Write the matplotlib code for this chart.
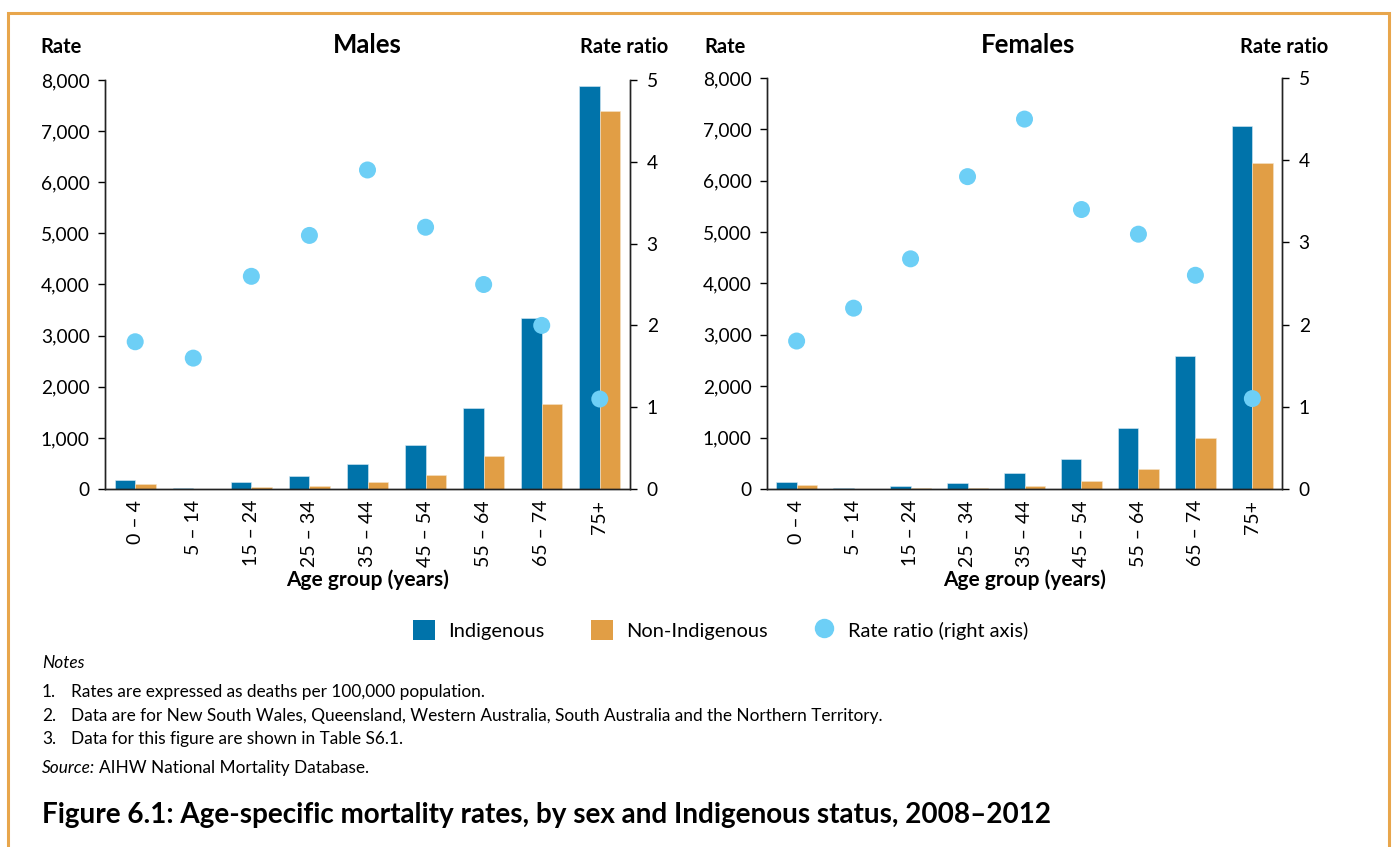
import matplotlib
matplotlib.use("Agg")
import matplotlib.pyplot as plt
import numpy as np
from matplotlib.lines import Line2D
from matplotlib.patches import Patch, Rectangle
from matplotlib.ticker import FuncFormatter, MultipleLocator

# ── Data (deaths per 100,000; rate ratio) ───────────────────────────────────
AGE_GROUPS = ["0 – 4", "5 – 14", "15 – 24", "25 – 34", "35 – 44",
              "45 – 54", "55 – 64", "65 – 74", "75+"]

MALE_INDIG = [175, 20, 130, 245, 490, 870, 1590, 3340, 7880]
MALE_NON = [90, 8, 48, 68, 128, 265, 640, 1655, 7400]
MALE_RATIO = [1.8, 1.6, 2.6, 3.1, 3.9, 3.2, 2.5, 2.0, 1.1]

FEMALE_INDIG = [145, 20, 60, 120, 310, 578, 1185, 2590, 7060]
FEMALE_NON = [78, 4, 18, 28, 66, 165, 380, 1000, 6340]
FEMALE_RATIO = [1.8, 2.2, 2.8, 3.8, 4.5, 3.4, 3.1, 2.6, 1.1]

BLUE = "#0073AA"
ORANGE = "#E19E45"
LIGHT_BLUE = "#6DCFF6"
BORDER = "#E8A64C"

W, H = 1394, 847

plt.rcParams.update({
    "font.family": ["Lato", "DejaVu Sans"],
    "font.size": 13,
    "axes.linewidth": 1.0,
    "axes.edgecolor": "#222222",
    "xtick.labelsize": 14,
    "ytick.labelsize": 13.8,
})


def fx(px):
    return px / W


def fy(py):
    return 1 - py / H


def draw_panel(fig, rect, indig, non, ratio):
    ax = fig.add_axes(rect)
    x = np.arange(len(AGE_GROUPS))
    bw = 0.355
    ax.bar(x - bw / 2, indig, bw, color=BLUE, edgecolor="#d9ecf5",
           linewidth=0.4, zorder=2)
    ax.bar(x + bw / 2, non, bw, color=ORANGE, edgecolor="#f6e3c8",
           linewidth=0.4, zorder=2)
    ax.set_ylim(0, 8000)
    ax.set_xlim(-0.52, len(AGE_GROUPS) - 0.48)
    ax.yaxis.set_major_locator(MultipleLocator(1000))
    ax.yaxis.set_major_formatter(FuncFormatter(lambda v, p: f"{v:,.0f}"))
    ax.set_xticks(x)
    ax.set_xticklabels(AGE_GROUPS, rotation=90)
    ax.tick_params(axis="x", length=0, pad=8)
    ax.tick_params(axis="y", direction="out", length=5, width=1.0, pad=6)
    ax.spines["top"].set_visible(False)
    ax.set_xlabel("Age group (years)", fontweight="bold", fontsize=15,
                  labelpad=2)

    ax2 = ax.twinx()
    ax2.scatter(x, ratio, s=150, color=LIGHT_BLUE, zorder=3,
                edgecolors="none")
    ax2.set_ylim(0, 5)
    ax2.yaxis.set_major_locator(MultipleLocator(1))
    ax2.tick_params(axis="y", direction="out", length=5, width=1.0, pad=7)
    ax2.spines["top"].set_visible(False)
    return ax, ax2


fig = plt.figure(figsize=(W / 100, H / 100), dpi=100)

# orange frame around the figure block
fig.add_artist(Rectangle((fx(8), -0.05), fx(1389) - fx(8), fy(13) + 0.05,
                         transform=fig.transFigure, fill=False,
                         edgecolor=BORDER, linewidth=2.2))

draw_panel(fig, [fx(105), fy(489), fx(630) - fx(105), fy(80) - fy(489)],
           MALE_INDIG, MALE_NON, MALE_RATIO)
draw_panel(fig, [fx(767), fy(489), fx(1282) - fx(767), fy(78) - fy(489)],
           FEMALE_INDIG, FEMALE_NON, FEMALE_RATIO)

# panel headings
for left, mid, right, name in [(40, 367, 668, "Males"),
                               (704, 1028, 1328, "Females")]:
    fig.text(fx(left), fy(47), "Rate", fontweight="bold", fontsize=14.5,
             ha="left", va="center")
    fig.text(fx(mid), fy(45), name, fontweight="bold", fontsize=18.5,
             ha="center", va="center")
    fig.text(fx(right), fy(47), "Rate ratio", fontweight="bold",
             fontsize=14.5, ha="right", va="center")

handles = [
    Patch(facecolor=BLUE, edgecolor="none"),
    Patch(facecolor=ORANGE, edgecolor="none"),
    Line2D([], [], linestyle="none", marker="o", markersize=14,
           markerfacecolor=LIGHT_BLUE, markeredgecolor="none"),
]
fig.legend(handles, ["Indigenous", "Non-Indigenous", "Rate ratio (right axis)"],
           loc="center", bbox_to_anchor=(fx(721), fy(630)), ncol=3,
           frameon=False, fontsize=14.4, handlelength=1.1, handleheight=1.1,
           handletextpad=0.65, columnspacing=2.3)

# notes & source
NOTE_FS = 12.4
fig.text(fx(42), fy(663), "Notes", fontstyle="italic", fontsize=NOTE_FS,
         va="center")
notes = [
    "Rates are expressed as deaths per 100,000 population.",
    "Data are for New South Wales, Queensland, Western Australia, South "
    "Australia and the Northern Territory.",
    "Data for this figure are shown in Table S6.1.",
]
for i, (yy, txt) in enumerate(zip([692, 716, 739], notes), start=1):
    fig.text(fx(42), fy(yy), f"{i}.", fontsize=NOTE_FS, va="center")
    fig.text(fx(71), fy(yy), txt, fontsize=NOTE_FS, va="center")

src = fig.text(fx(42), fy(768), "Source:", fontstyle="italic",
               fontsize=NOTE_FS, va="center")
fig.canvas.draw()
bb = src.get_window_extent()
fig.text(bb.x1 / W + fx(4), fy(768), "AIHW National Mortality Database.",
         fontsize=NOTE_FS, va="center")

fig.text(fx(42), fy(815),
         "Figure 6.1: Age-specific mortality rates, by sex and Indigenous "
         "status, 2008–2012",
         fontweight="bold", fontsize=20.1, va="center")

fig.savefig("out.png", dpi=100, facecolor="white")
